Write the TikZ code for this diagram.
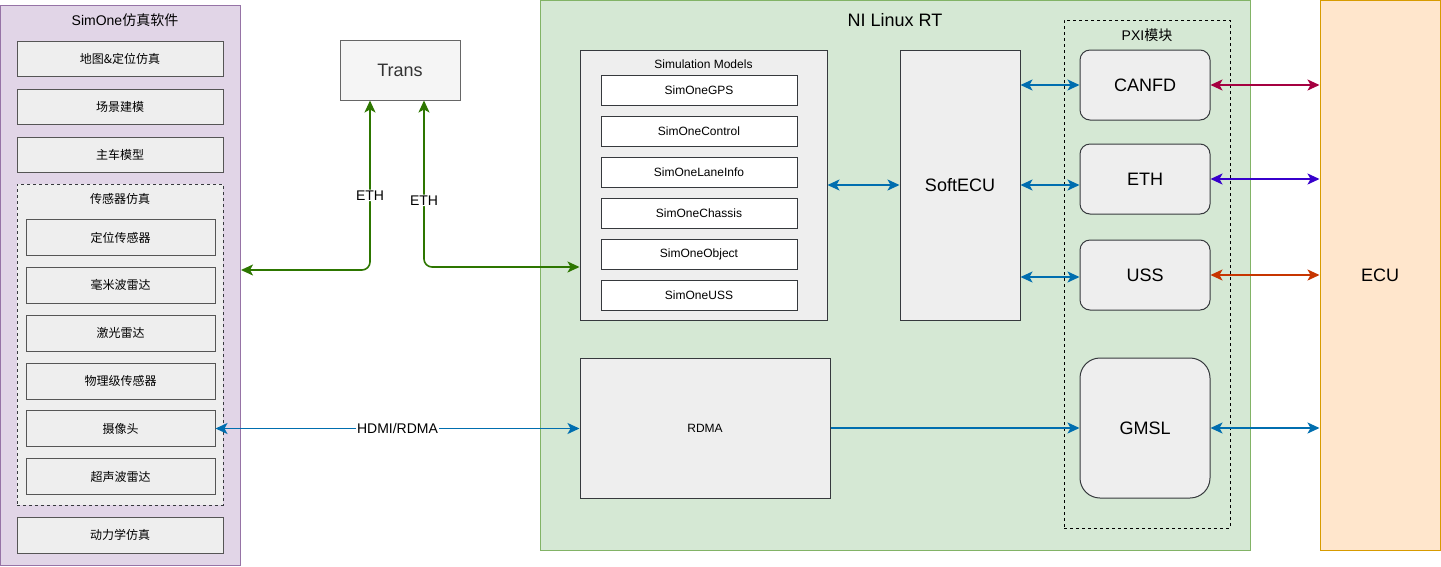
\documentclass[tikz,border=0pt]{standalone}
\usepackage{fontspec}
\setmainfont{Liberation Sans}
\newfontfamily\cjk{Noto Sans CJK SC}
\usetikzlibrary{arrows.meta, positioning, calc}

\definecolor{purfill}{HTML}{E1D5E7}
\definecolor{purline}{HTML}{9673A6}
\definecolor{grnfill}{HTML}{D5E8D4}
\definecolor{grnline}{HTML}{82B366}
\definecolor{orfill}{HTML}{FFE6CC}
\definecolor{orline}{HTML}{D79B00}
\definecolor{boxfill}{HTML}{EEEEEE}
\definecolor{boxline}{HTML}{555555}
\definecolor{darkline}{HTML}{36393D}
\definecolor{transfill}{HTML}{F5F5F5}
\definecolor{transline}{HTML}{666666}
\definecolor{transtext}{HTML}{333333}
\definecolor{lnkblue}{HTML}{006EAF}
\definecolor{lnkgreen}{HTML}{2D7600}
\definecolor{lnkred}{HTML}{A50040}
\definecolor{lnkviolet}{HTML}{3700CC}
\definecolor{lnkorange}{HTML}{C73500}

\begin{document}
\begin{tikzpicture}[x=1pt, y=-1pt,
    grey/.style={draw=boxline, fill=boxfill, line width=1pt, font=\cjk\fontsize{12}{14}\selectfont},
    model/.style={draw=darkline, fill=white, line width=1pt, minimum width=196pt, minimum height=30pt, font=\fontsize{12}{14}\selectfont},
    pxibox/.style={draw=darkline, fill=boxfill, line width=1pt, rounded corners=10pt, minimum width=130pt, minimum height=70pt, font=\fontsize{18}{20}\selectfont},
    big/.style={font=\fontsize{18}{20}\selectfont},
    both/.style={{Stealth[length=12pt,width=11pt,inset=3pt]}-{Stealth[length=12pt,width=11pt,inset=3pt]}, line width=1.6pt},
    oneway/.style={-{Stealth[length=12pt,width=11pt,inset=3pt]}, line width=1.6pt},
    tag/.style={font=\fontsize{14}{16}\selectfont, text=black, fill=white, inner sep=1pt}
]
    \useasboundingbox (0,0) rectangle (1441,566);

    % SimOne software
    \node[draw=purline, fill=purfill, line width=1pt, minimum width=240pt, minimum height=560pt] (simone) at (120.5,285.5) {};
    \node[font=\fontsize{14}{16}\selectfont] (simtitle) at (125,20) {SimOne{\cjk 仿真软件}};
    \node[grey, minimum width=206pt, minimum height=35pt] (map)   at (120,58.5)  {地图\&定位仿真};
    \node[grey, minimum width=206pt, minimum height=35pt] (scene) at (120,106.5) {场景建模};
    \node[grey, minimum width=206pt, minimum height=35pt] (ego)   at (120,154.5) {主车模型};

    % sensor simulation group
    \node[draw=darkline, fill=boxfill, line width=1pt, dash pattern=on 3pt off 3pt, minimum width=206pt, minimum height=321pt] (sensors) at (120,344.5) {};
    \node[font=\cjk\fontsize{12}{14}\selectfont] (senstitle) at (120,199) {传感器仿真};
    \node[grey, minimum width=189pt, minimum height=36pt] (locsens) at (120.5,237.5) {定位传感器};
    \node[grey, minimum width=189pt, minimum height=36pt] (radar)   at (120.5,285)   {毫米波雷达};
    \node[grey, minimum width=189pt, minimum height=36pt] (lidar)   at (120.5,333)   {激光雷达};
    \node[grey, minimum width=189pt, minimum height=36pt] (phys)    at (120.5,381)   {物理级传感器};
    \node[grey, minimum width=189pt, minimum height=36pt] (camera)  at (120.5,428.5) {摄像头};
    \node[grey, minimum width=189pt, minimum height=36pt] (ussim)   at (120.5,476.5) {超声波雷达};

    \node[grey, minimum width=206pt, minimum height=36pt] (dyn) at (120,535) {动力学仿真};

    % Trans
    \node[draw=transline, fill=transfill, line width=1pt, minimum width=120pt, minimum height=60pt, big, text=transtext] (trans) at (400,70) {Trans};

    % NI Linux RT
    \node[draw=grnline, fill=grnfill, line width=1pt, minimum width=710pt, minimum height=550pt] (nirt) at (895,275) {};
    \node[big] (nititle) at (895,20) {NI Linux RT};

    % Simulation models
    \node[draw=darkline, fill=boxfill, line width=1pt, minimum width=247pt, minimum height=270pt] (simmod) at (703.5,185) {};
    \node[font=\fontsize{12}{14}\selectfont] (modtitle) at (703.5,64.5) {Simulation Models};
    \node[model] (gps)     at (699,90)  {SimOneGPS};
    \node[model] (control) at (699,131) {SimOneControl};
    \node[model] (lane)    at (699,172) {SimOneLaneInfo};
    \node[model] (chassis) at (699,213) {SimOneChassis};
    \node[model] (object)  at (699,254) {SimOneObject};
    \node[model] (ussmod)  at (699,295) {SimOneUSS};

    % SoftECU and RDMA
    \node[draw=darkline, fill=boxfill, line width=1pt, minimum width=120pt, minimum height=270pt, big] (softecu) at (960,185) {SoftECU};
    \node[draw=darkline, fill=boxfill, line width=1pt, minimum width=250pt, minimum height=140pt, font=\fontsize{12}{14}\selectfont] (rdma) at (705,428) {RDMA};

    % PXI modules
    \node[draw=black, line width=1pt, dash pattern=on 3pt off 3pt, minimum width=166pt, minimum height=508pt] (pxi) at (1147,274) {};
    \node[font=\fontsize{14}{16}\selectfont] (pxititle) at (1147,35) {PXI{\cjk 模块}};
    \node[pxibox] (canfd) at (1145,85)  {CANFD};
    \node[pxibox] (eth)   at (1145,179) {ETH};
    \node[pxibox] (uss)   at (1145,275) {USS};
    \node[pxibox, minimum height=140pt, rounded corners=20pt] (gmsl) at (1145,428) {GMSL};

    % ECU
    \node[draw=orline, fill=orfill, line width=1pt, minimum width=120pt, minimum height=550pt, big] (ecu) at (1380,275) {ECU};

    % ETH links via Trans
    \draw[both, lnkgreen, rounded corners=8pt] ([xshift=-30pt]trans.south) |- (simone.east |- 0,270) node[tag, pos=0.28] {ETH};
    \draw[both, lnkgreen, rounded corners=8pt] ([xshift=24pt]trans.south) |- (simmod.west |- 0,267) node[tag, pos=0.3] {ETH};

    % HDMI/RDMA
    \draw[both, lnkblue] (camera.east) -- (camera.east -| rdma.west) node[tag, midway] {HDMI/RDMA};
    \draw[oneway, lnkblue] (rdma.east) -- (gmsl.west);

    % SoftECU links
    \draw[both, lnkblue] (simmod.east) -- (softecu.west);
    \draw[both, lnkblue] (softecu.east |- canfd.west) -- (canfd.west);
    \draw[both, lnkblue] (softecu.east) -- (softecu.east -| eth.west);
    \draw[both, lnkblue] (softecu.east |- 0,277) -- (eth.west |- 0,277);

    % PXI to ECU
    \draw[both, lnkred]    (canfd.east) -- (canfd.east -| ecu.west);
    \draw[both, lnkviolet] (eth.east) -- (eth.east -| ecu.west);
    \draw[both, lnkorange] (uss.east) -- (uss.east -| ecu.west);
    \draw[both, lnkblue]   (gmsl.east) -- (gmsl.east -| ecu.west);
\end{tikzpicture}
\end{document}
